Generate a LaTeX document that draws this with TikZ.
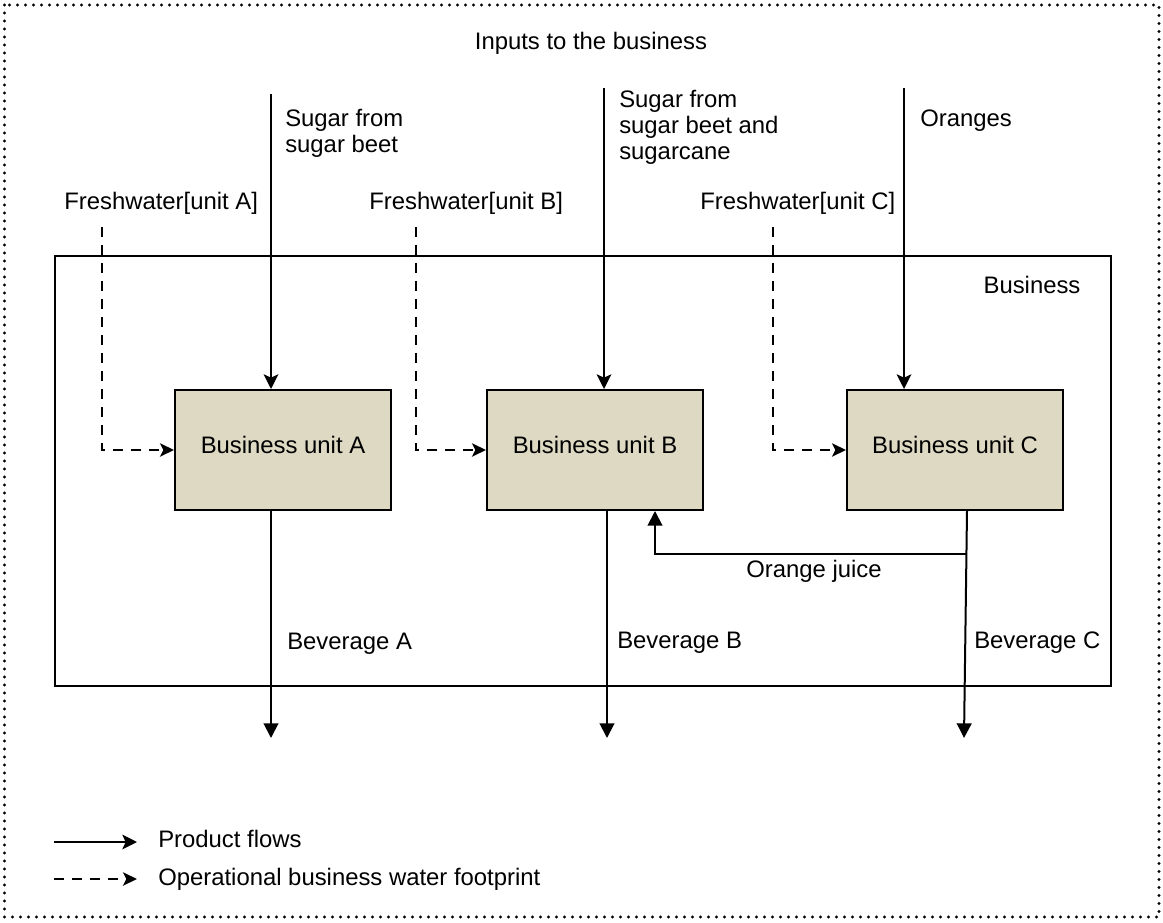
\documentclass[tikz,border=0pt]{standalone}
\usepackage{fontspec}
\setmainfont{Liberation Sans}
\usetikzlibrary{arrows.meta}
\begin{document}
\begin{tikzpicture}[x=0.75pt,y=-0.75pt,
  every node/.style={font=\fontsize{17.9}{19.5}\selectfont, inner sep=0pt},
  unitbox/.style={draw, line width=1.5pt, fill=boxtan, minimum width=162pt, minimum height=90pt, text height=11pt, text depth=6.5pt},
  flow/.style={line width=1.5pt, -{Stealth[length=11pt,width=11pt,inset=2.5pt]}},
  tflow/.style={line width=1.5pt, -{Triangle[length=11pt,width=11pt]}},
  water/.style={line width=1.5pt, dash pattern=on 7.5pt off 6pt, -{Stealth[length=10.5pt,width=10pt,inset=2.5pt]}},
  lbl/.style={anchor=base west},
  ctr/.style={anchor=base}
]
\definecolor{boxtan}{HTML}{DDD9C3}
\useasboundingbox (0,0) rectangle (1163,923);
\draw[line width=2.3pt, line cap=round, dash pattern=on 0pt off 6pt] (4.5,5) rectangle (1159,917);
\node[ctr] (title) at (591,50) {Inputs to the business};
\draw[line width=1.5pt] (55,256) rectangle (1111,686);
\node[ctr] (bus) at (1032,294) {Business};

\node[unitbox] (A) at (283,450) {Business unit A};
\node[unitbox] (B) at (595,450) {Business unit B};
\node[unitbox] (C) at (955,450) {Business unit C};

% inputs
\coordinate (sA) at (271,94);
\coordinate (sB) at (604,88);
\coordinate (sC) at (904,88);
\draw[flow] (sA) -- (sA |- A.north);
\draw[flow] (sB) -- (sB |- B.north);
\draw[flow] (sC) -- (sC |- C.north);
\node[lbl] (tA1) at (285,127) {Sugar from};
\node[lbl] (tA2) at (285,153) {sugar beet};
\node[lbl] (tB1) at (619,108) {Sugar from};
\node[lbl] (tB2) at (619,134) {sugar beet and};
\node[lbl] (tB3) at (619,160) {sugarcane};
\node[lbl] (tC) at (920,127) {Oranges};

% freshwater
\node[lbl] (fA) at (64,210) {Freshwater[unit A]};
\node[lbl] (fB) at (369,210) {Freshwater[unit B]};
\node[lbl] (fC) at (700,210) {Freshwater[unit C]};
\coordinate (wA) at (102,227);
\coordinate (wB) at (416,227);
\coordinate (wC) at (773,227);
\draw[water] (wA) |- (A.west);
\draw[water] (wB) |- (B.west);
\draw[water] (wC) |- (C.west);

% outputs
\coordinate (oA) at (271,738);
\coordinate (oB) at (607,738);
\coordinate (oC) at (964,738);
\coordinate (cB) at (967,510);
\coordinate (jC) at (967,554);
\coordinate (jB) at (655,554);
\draw[tflow] (A.south -| oA) -- (oA);
\draw[tflow] (B.south -| oB) -- (oB);
\draw[tflow] (C.south -| cB) -- (oC);
\draw[tflow] (jC) -- (jB) -- (jB |- B.south);
\node[ctr] (oj) at (814,577) {Orange juice};
\node[lbl] (bA) at (287,649) {Beverage A};
\node[lbl] (bB) at (617,648) {Beverage B};
\node[lbl] (bC) at (974,648) {Beverage C};

% legend
\coordinate (l1a) at (54,842);
\coordinate (l1b) at (137,842);
\coordinate (l2a) at (54,879);
\coordinate (l2b) at (137,879);
\draw[flow] (l1a) -- (l1b);
\draw[water] (l2a) -- (l2b);
\node[lbl] (lt1) at (158,847) {Product flows};
\node[lbl] (lt2) at (158,885) {Operational business water footprint};
\end{tikzpicture}
\end{document}
